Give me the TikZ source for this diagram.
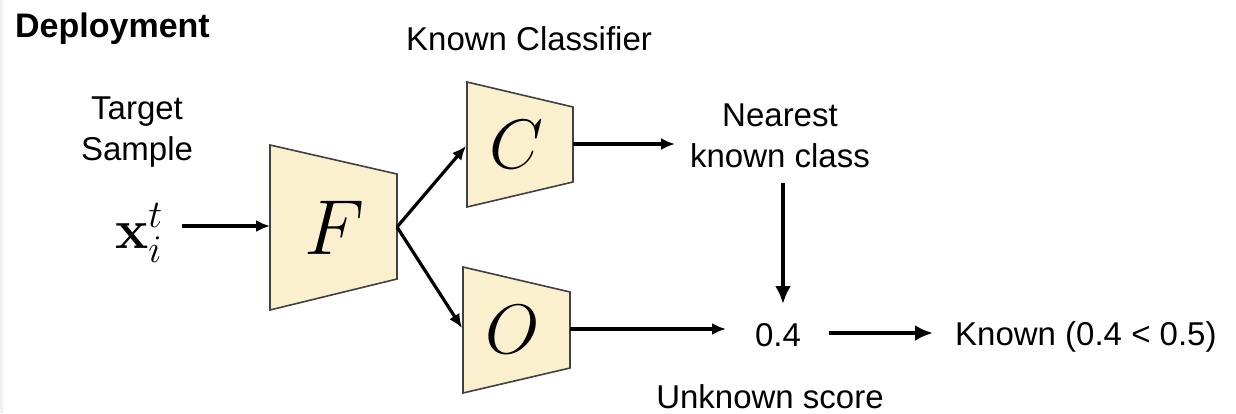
\RequirePackage{fix-cm}
\documentclass[tikz,border=0pt]{standalone}
\usepackage[no-math]{fontspec}
\setmainfont{Liberation Sans}
\usetikzlibrary{arrows.meta}
\definecolor{blockfill}{HTML}{FBF0CE}
\definecolor{blockline}{HTML}{404040}
\tikzset{
  lbl/.style={font=\fontsize{33}{40.5}\selectfont, inner sep=0pt, align=center},
  block/.style={fill=blockfill, draw=blockline, line width=1.6pt, line join=miter},
  arr/.style={line width=3.2pt, -{Latex[length=14pt,width=12pt]}},
  thickarr/.style={line width=4.6pt, -{Latex[length=18pt,width=16pt]}},
  sym/.style={inner sep=0pt},
}
\begin{document}
\begin{tikzpicture}[x=1pt,y=-1pt]
\useasboundingbox[fill=white] (0,0) rectangle (1236,413);
\fill[gray!12] (0,0) rectangle (3,413);

% feature extractor F and the two heads C and O
\draw[block] (270,145) -- (397,174) -- (397,279) -- (270,310) -- cycle;
\draw[block] (467,82) -- (573,107) -- (573,182) -- (467,207) -- cycle;
\draw[block] (463,267) -- (570,292) -- (570,368) -- (463,393) -- cycle;
\node[sym, font=\fontsize{78}{80}\selectfont] (F) at (335,228) {$F$};
\node[sym, font=\fontsize{70}{72}\selectfont] (C) at (517,145) {$C$};
\node[sym, font=\fontsize{70}{72}\selectfont] (O) at (513,330) {$O$};

% ports of the blocks
\coordinate (Fin)  at (270,226);
\coordinate (Fout) at (397,227);
\coordinate (Cin)  at (466,146);
\coordinate (Cout) at (573,144);
\coordinate (Oin)  at (462,328);
\coordinate (Oout) at (570,329);

% labels (the base anchor of a two-line label sits on its last line)
\node[lbl, font=\bfseries\fontsize{34}{40}\selectfont, anchor=base west] (title) at (15,37) {Deployment};
\node[lbl, anchor=base west] (kc) at (406,50) {Known Classifier};
\node[lbl, anchor=base] (ts) at (137,160) {Target\\Sample};
\node[sym, font=\fontsize{56}{60}\selectfont] (xin) at (139,233) {$\mathbf{x}_i^t$};
\node[lbl, anchor=base] (nkc) at (780,167) {Nearest\\known class};
\node[lbl, anchor=base] (score) at (778,346) {0.4};
\node[lbl, anchor=base west] (dec) at (955,345) {Known (0.4 < 0.5)};
\node[lbl, anchor=base] (us) at (770,408) {Unknown score};

% free ends of the connectors
\coordinate (xout)  at (182,226);
\coordinate (cls)   at (675,144);
\coordinate (vtop)  at (783,183);
\coordinate (vbot)  at (783,304);
\coordinate (sin)   at (726,329);
\coordinate (sout)  at (829,333);
\coordinate (dein)  at (933,333);

% connectors
\draw[arr] (xout) -- (Fin);
\draw[arr] (Fout) -- (Cin);
\draw[arr] (Fout) -- (Oin);
\draw[arr] (Cout) -- (cls);
\draw[arr] (Oout) -- (sin);
\draw[thickarr] (vtop) -- (vbot);
\draw[thickarr] (sout) -- (dein);
\end{tikzpicture}
\end{document}
